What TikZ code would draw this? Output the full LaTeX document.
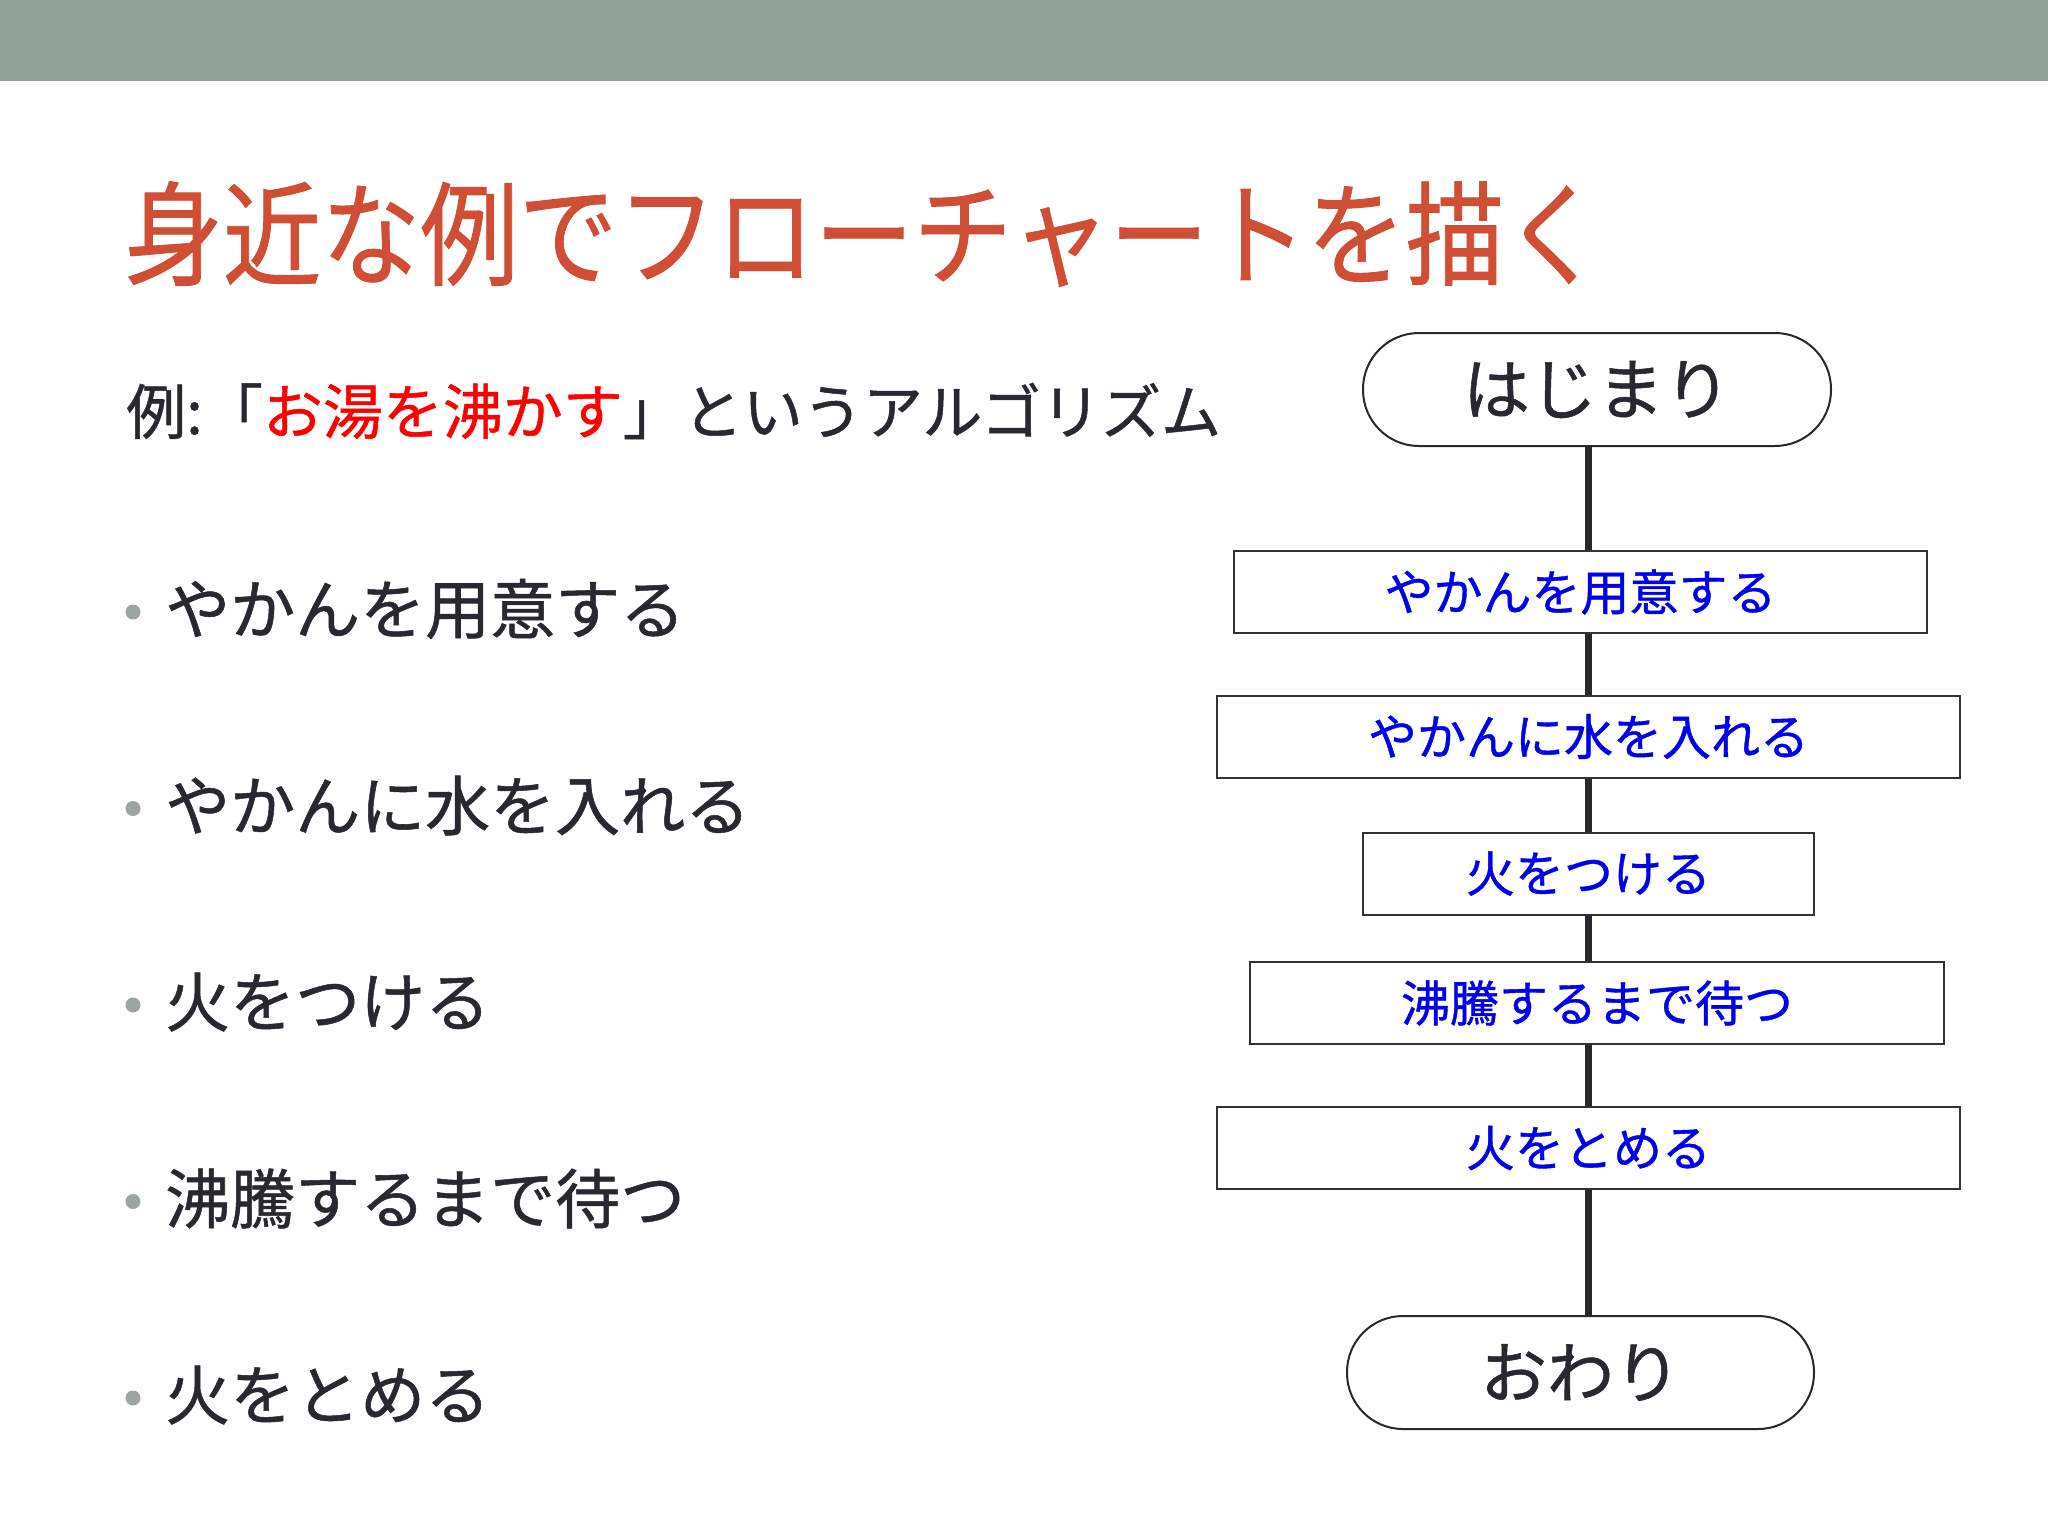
\documentclass[tikz,border=0pt]{standalone}
\usepackage{fontspec}
\setmainfont[FakeBold=0.8]{Noto Sans CJK JP}
\definecolor{barcol}{RGB}{147,162,153}
\definecolor{titlecol}{RGB}{208,78,54}
\definecolor{ink}{RGB}{40,40,48}
\definecolor{stepblue}{RGB}{0,0,235}
\definecolor{dotcol}{RGB}{157,165,159}
\definecolor{boxline}{RGB}{50,50,55}
\tikzset{
  bodytext/.style={anchor=west, inner sep=0pt, text=ink, font=\fontsize{65}{78}\selectfont},
  bulletdot/.style={circle, fill=dotcol, inner sep=0pt, minimum size=15pt},
  stepbox/.style={draw=boxline, line width=2pt, fill=white, inner sep=0pt,
    minimum height=82pt, text=stepblue, font=\fontsize{49}{58}\selectfont},
  termbox/.style={draw=ink, line width=2pt, fill=white, inner sep=0pt,
    rounded corners=56pt, minimum height=113pt, minimum width=468pt,
    text=ink, font=\fontsize{67}{78}\selectfont},
  spineline/.style={draw=ink, line width=7pt}
}
\begin{document}
\begin{tikzpicture}[x=1pt,y=-1pt]
\useasboundingbox (0,0) rectangle (2048,1536);
\fill[white] (0,0) rectangle (2048,1536);
\fill[barcol] (0,0) rectangle (2048,81);
% title
\node[anchor=west, inner sep=0pt, text=titlecol, xscale=0.873, font=\fontsize{113}{130}\selectfont] (title) at (124,234) {身近な例でフローチャートを描く};
% subtitle
\node[bodytext, font=\fontsize{60}{72}\selectfont] (sub) at (126,411) {例:「\textcolor{red}{お湯を沸かす}」というアルゴリズム};
% bullets
\node[bulletdot] (d1) at (133,612) {};
\node[bulletdot] (d2) at (133,808.5) {};
\node[bulletdot] (d3) at (133,1005) {};
\node[bulletdot] (d4) at (133,1201.5) {};
\node[bulletdot] (d5) at (133,1398) {};
\node[bodytext] (t1) at (165,609) {やかんを用意する};
\node[bodytext] (t2) at (165,805.5) {やかんに水を入れる};
\node[bodytext] (t3) at (165,1002) {火をつける};
\node[bodytext] (t4) at (165,1198.5) {沸騰するまで待つ};
\node[bodytext] (t5) at (165,1395) {火をとめる};
% flowchart
\coordinate (spine) at (1588,0);
\node[termbox] (start) at (1597,389.5) {はじまり};
\node[stepbox, minimum width=693pt] (b1) at (1580.5,592) {やかんを用意する};
\node[stepbox, minimum width=743pt] (b2) at (1588.5,736.5) {やかんに水を入れる};
\node[stepbox, minimum width=451pt] (b3) at (1588.5,873.5) {火をつける};
\node[stepbox, minimum width=694pt] (b4) at (1597,1003) {沸騰するまで待つ};
\node[stepbox, minimum width=743pt] (b5) at (1588.5,1148) {火をとめる};
\node[termbox, minimum width=467pt] (end) at (1580.5,1372.5) {おわり};
\foreach \a/\b in {start/b1,b1/b2,b2/b3,b3/b4,b4/b5,b5/end}{
  \draw[spineline] (\a.south -| spine) -- (\b.north -| spine);
}
\end{tikzpicture}
\end{document}
